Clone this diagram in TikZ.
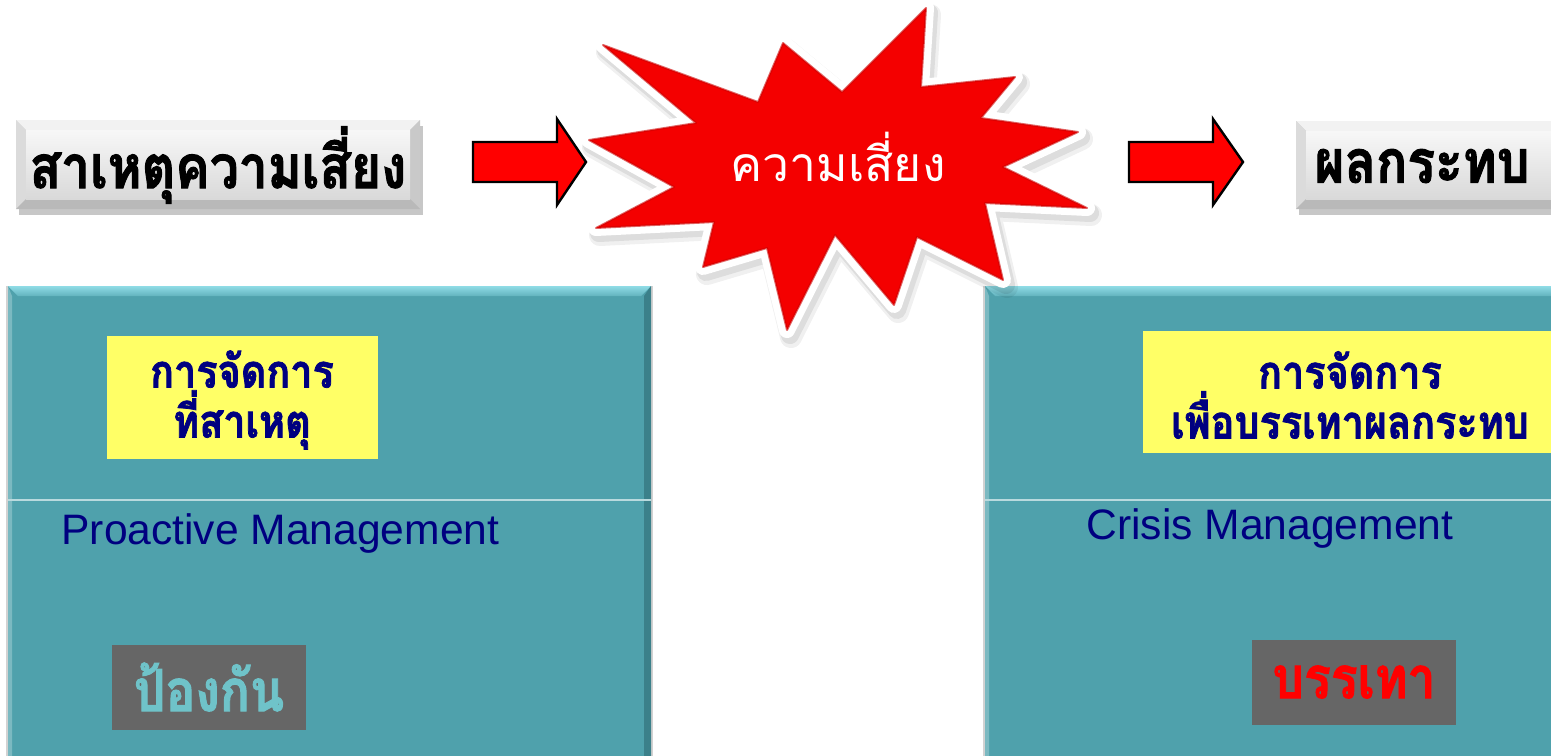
\documentclass[tikz,border=0pt]{standalone}
\usepackage{fontspec}
\setmainfont{Liberation Sans}
\newfontfamily\thaifont[Script=Thai]{Loma}
\newfontfamily\thaiheavy[Script=Thai,FakeStretch=0.86,BoldFeatures={FakeBold=1.6}]{Loma}
\definecolor{panelteal}{HTML}{4FA1AC}
\definecolor{paneltop}{HTML}{8FDCE6}
\definecolor{paneldark}{HTML}{3B808A}
\definecolor{notey}{HTML}{FFFF66}
\definecolor{navytext}{HTML}{000080}
\definecolor{tagbg}{HTML}{666666}
\definecolor{tagteal}{HTML}{6FC3C9}
\definecolor{burst}{HTML}{F40000}

% grey bevelled button: x1 y1 x2 y2
\newcommand\bevelbutton[4]{%
  \fill[black,opacity=.22] ({#1+3},{#2+6}) rectangle ({#3+3},{#4+6});
  \fill[gray!45] (#1,#2) rectangle (#3,#4);
  \fill[gray!10] (#1,#2) -- (#3,#2) -- ({#3-10},{#2+10}) -- ({#1+10},{#2+10}) -- cycle;
  \fill[gray!28] (#1,#2) -- ({#1+10},{#2+10}) -- ({#1+10},{#4-10}) -- (#1,#4) -- cycle;
  \fill[gray!42] (#3,#2) -- ({#3-10},{#2+10}) -- ({#3-10},{#4-10}) -- (#3,#4) -- cycle;
  \fill[gray!55] (#1,#4) -- ({#1+10},{#4-10}) -- ({#3-10},{#4-10}) -- (#3,#4) -- cycle;
  \shade[top color=gray!6, bottom color=gray!30] ({#1+10},{#2+10}) rectangle ({#3-10},{#4-10});
}

% teal bevelled panel: x1 y1 x2 y2 (divider at y=500)
\newcommand\tealpanel[4]{%
  \fill[gray!35] ({#1-2},{#2}) rectangle ({#3+2},{#4});
  \fill[panelteal] (#1,#2) rectangle (#3,#4);
  \shade[top color=paneltop, bottom color=panelteal!70!paneltop]
    (#1,#2) -- (#3,#2) -- ({#3-10},{#2+10}) -- ({#1+10},{#2+10}) -- cycle;
  \fill[panelteal!75!white] (#1,#2) -- ({#1+4},{#2+10}) -- ({#1+4},#4) -- (#1,#4) -- cycle;
  \fill[paneldark] (#3,#2) -- ({#3-7},{#2+10}) -- ({#3-7},#4) -- (#3,#4) -- cycle;
  \draw[white!60!panelteal, line width=0.6pt] (#1,500) -- (#3,500);
}

% explosion outline
\newcommand\burstshape[1]{%
  \path[#1] (603,45) -- (758,102) -- (783,43) -- (842,92) -- (926,8) -- (921,87)
    -- (1015,77) -- (981,118) -- (1078,132) -- (1003,167) -- (1087,208) -- (985,203)
    -- (1003,280) -- (917,237) -- (894,305) -- (835,235) -- (787,330) -- (767,248)
    -- (703,267) -- (714,222) -- (596,228) -- (674,187) -- (589,140) -- (696,123) -- cycle;
}

\tikzset{
  blockarrow/.style={fill=red, draw=black, line width=1.2pt, line join=miter},
  btnlabel/.style={font=\thaiheavy\bfseries\fontsize{30}{32}\selectfont, text=black},
  notelabel/.style={font=\thaiheavy\bfseries\fontsize{23}{25}\selectfont, text=navytext, align=center},
  englabel/.style={font=\fontsize{21.3}{24}\selectfont, text=navytext, anchor=west, inner sep=0pt},
  taglabel/.style={font=\thaiheavy\bfseries\fontsize{29}{31}\selectfont},
}

\begin{document}
\begin{tikzpicture}[x=0.5pt,y=-0.5pt]
\useasboundingbox (0,0) rectangle (1551,755);
\clip (0,0) rectangle (1551,755);
\fill[white] (0,0) rectangle (1551,755);

% top row: cause -> risk -> impact
\bevelbutton{16}{120}{420}{209}
\node[btnlabel] (cause) at (218,165) {สาเหตุความเสี่ยง};

\bevelbutton{1296}{121}{1580}{209}
\node[btnlabel] (impact) at (1422,166) {ผลกระทบ};

\draw[blockarrow] (473,142) -- (557,142) -- (557,119) -- (586,162) -- (557,205)
  -- (557,182) -- (473,182) -- cycle;
\draw[blockarrow] (1129,142) -- (1213,142) -- (1213,119) -- (1243,162) -- (1213,205)
  -- (1213,182) -- (1129,182) -- cycle;

% bottom panels
\tealpanel{8}{286}{651}{760}
\tealpanel{985}{286}{1580}{760}

% explosion: soft shadow, white rim, red body
\burstshape{fill=black, opacity=.06, shift={(4,7)}, line width=11pt, draw=black, line join=round}
\burstshape{fill=black, opacity=.08, shift={(3,5)}, line width=9pt, draw=black, line join=round}
\burstshape{fill=white, draw=white, line width=8pt, line join=round}
\burstshape{fill=burst}
\burstshape{draw=red!80!black, line width=1pt, line join=round, opacity=.6}
\node[font=\thaifont\fontsize{24}{26}\selectfont, text=white] (risk) at (838,157) {ความเสี่ยง};

% left panel content
\fill[notey] (107,336) rectangle (378,459);
\node[notelabel] (causenote) at (242,400) {การจัดการ\\ที่สาเหตุ};
\node[englabel] (proactive) at (61,533) {Proactive Management};
\fill[tagbg] (112,645) rectangle (306,730);
\node[taglabel, text=tagteal] (prevent) at (209,687) {ป้องกัน};

% right panel content
\fill[notey] (1143,331) rectangle (1560,453);
\node[notelabel] (impactnote) at (1350,395) {การจัดการ\\เพื่อบรรเทาผลกระทบ};
\node[englabel] (crisis) at (1086,528) {Crisis Management};
\fill[tagbg] (1252,640) rectangle (1456,725);
\node[taglabel, text=red] (mitigate) at (1354,682) {บรรเทา};
\end{tikzpicture}
\end{document}
